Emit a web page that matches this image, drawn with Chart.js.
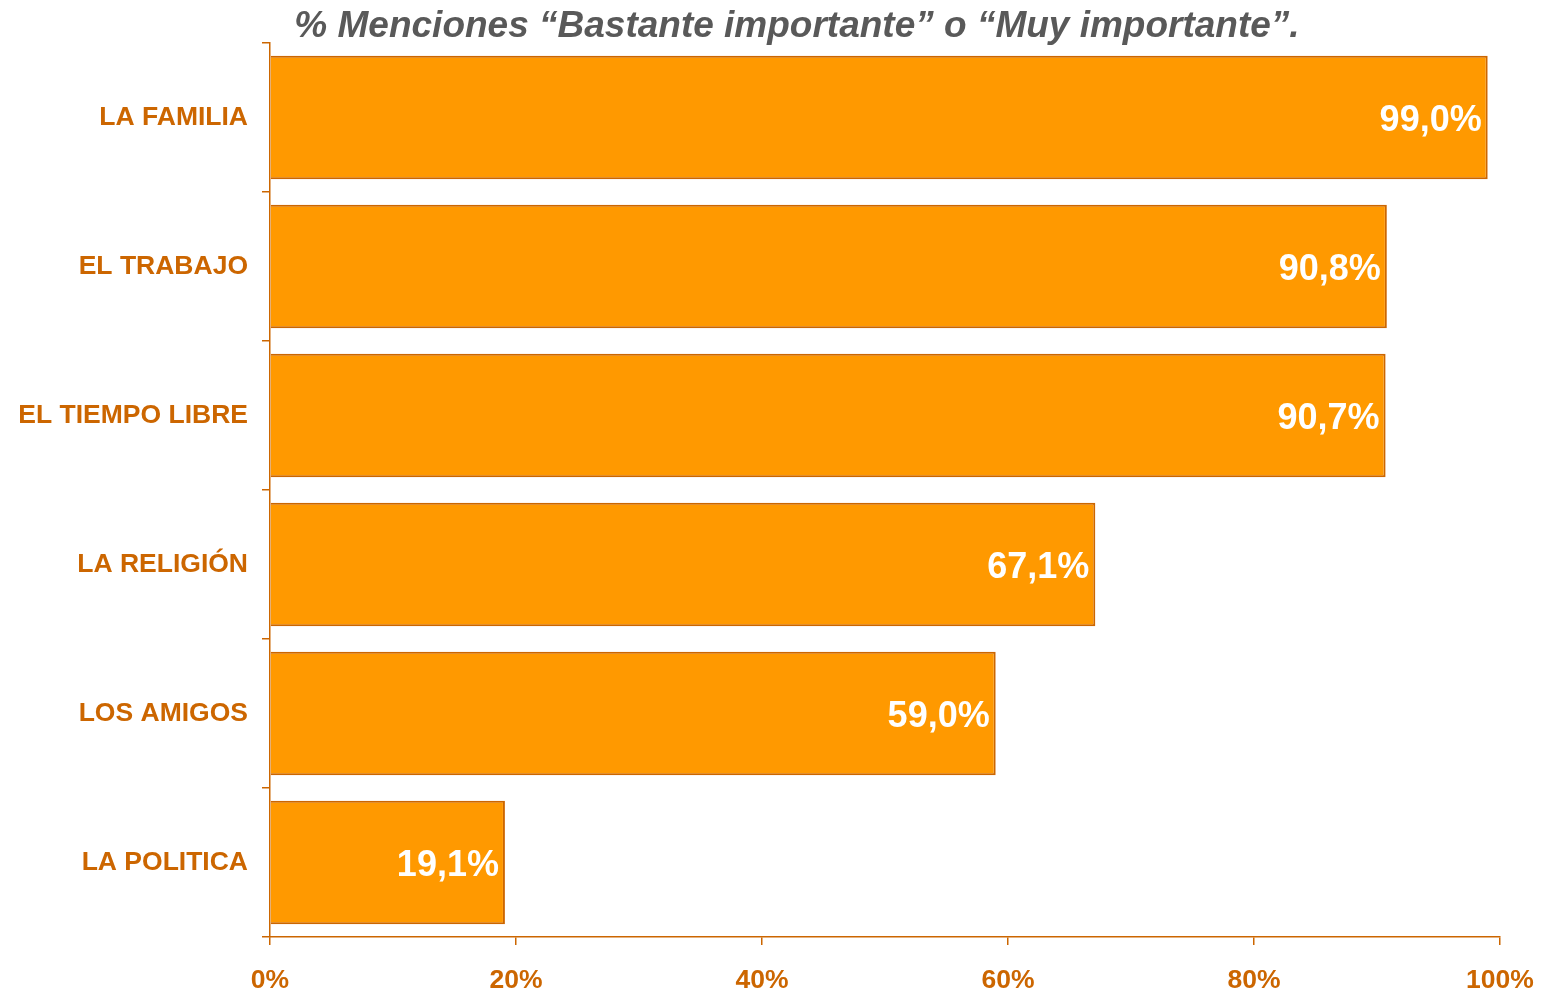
<!DOCTYPE html>
<html>
<head>
<meta charset="utf-8">
<script src="https://cdn.jsdelivr.net/npm/chart.js@4"></script>
<style>
  html, body { margin: 0; padding: 0; background: #fff; }
  #wrap { width: 1543px; height: 992px; }
</style>
</head>
<body>
<div id="wrap"><canvas id="bars" width="1543" height="992"></canvas></div>
<script>
const titleText = "% Menciones \u201cBastante importante\u201d o \u201cMuy importante\u201d.";
const categories = ["LA FAMILIA", "EL TRABAJO", "EL TIEMPO LIBRE", "LA RELIGIÓN", "LOS AMIGOS", "LA POLITICA"];
const values = [99.0, 90.8, 90.7, 67.1, 59.0, 19.1];
const xTicks = [0, 20, 40, 60, 80, 100];

const orange = "#FF9900";
const dark = "#CC6600";
const font = "'Liberation Sans', Arial, sans-serif";

// white value labels inside the end of each bar
const valueLabels = {
  id: "valueLabels",
  afterDatasetsDraw(chart) {
    const ctx = chart.ctx;
    const meta = chart.getDatasetMeta(0);
    ctx.save();
    ctx.fillStyle = "#fff";
    ctx.font = "bold 36px " + font;
    ctx.textAlign = "right";
    ctx.textBaseline = "middle";
    meta.data.forEach((bar, i) => {
      const txt = values[i].toFixed(1).replace(".", ",") + "%";
      ctx.fillText(txt, bar.x - 6, bar.y + 4);
    });
    ctx.restore();
  },
};

const topTitle = {
  id: "topTitle",
  afterDraw(chart) {
    const ctx = chart.ctx;
    ctx.save();
    ctx.fillStyle = "#595959";
    ctx.font = "italic bold 37px " + font;
    ctx.textAlign = "center";
    ctx.textBaseline = "alphabetic";
    ctx.fillText(titleText, 797, 37);
    ctx.restore();
  },
};

new Chart(document.getElementById("bars"), {
  type: "bar",
  data: {
    labels: categories,
    datasets: [
      {
        data: values,
        backgroundColor: orange,
        borderColor: dark,
        borderWidth: 2,
        barPercentage: 0.83,
        categoryPercentage: 1,
      },
    ],
  },
  options: {
    indexAxis: "y",
    responsive: false,
    animation: false,
    layout: { padding: { top: 43, right: 43, left: 0, bottom: 0 } },
    plugins: {
      legend: { display: false },
      tooltip: { enabled: false },
      title: { display: false },
    },
    scales: {
      x: {
        min: 0,
        max: 100,
        afterBuildTicks(scale) {
          scale.ticks = xTicks.map((v) => ({ value: v }));
        },
        afterFit(scale) {
          scale.height = 55;
          scale.paddingLeft = 0;
          scale.paddingRight = 0;
        },
        border: { color: dark, width: 1.5 },
        grid: {
          drawOnChartArea: false,
          color: dark,
          tickLength: 8,
          lineWidth: 1.5,
        },
        ticks: {
          color: dark,
          font: { family: font, size: 26.5, weight: "bold" },
          padding: 20,
          maxRotation: 0,
          callback: (v) => v + "%",
        },
      },
      y: {
        afterFit(scale) {
          scale.width = 270;
          scale.paddingTop = 0;
          scale.paddingBottom = 0;
        },
        border: { color: dark, width: 1.5 },
        grid: {
          drawOnChartArea: false,
          color: dark,
          tickLength: 8,
          lineWidth: 1.5,
          offset: true,
        },
        ticks: {
          color: dark,
          font: { family: font, size: 26.5, weight: "bold" },
          padding: 14,
        },
      },
    },
  },
  plugins: [valueLabels, topTitle],
});
</script>
</body>
</html>
